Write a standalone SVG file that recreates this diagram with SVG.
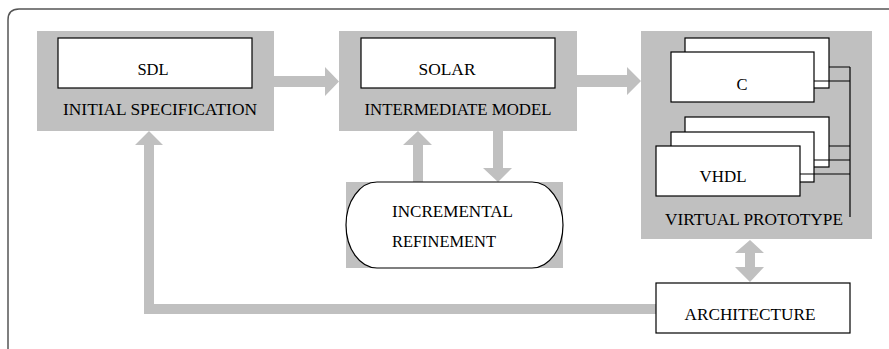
<svg xmlns="http://www.w3.org/2000/svg" width="889" height="349" viewBox="0 0 889 349">
<style>
.gray{fill:#c0c0c0;stroke:none}
.box{fill:#fff;stroke:#000;stroke-width:1.2}
.t{font-family:"Liberation Serif","DejaVu Serif",serif;font-size:16.5px;fill:#000}
.m{text-anchor:middle}
.wire{fill:none;stroke:#000;stroke-width:1.2}
.arrow{fill:#c0c0c0;stroke:none}
</style>
<rect width="889" height="349" fill="#fff"/>
<path d="M8 349 V20 Q8 9 19 9 H889" fill="none" stroke="#555" stroke-width="1.5"/>

<g id="connectors">
  <polygon class="arrow" points="274,76 325,76 325,67 339,81.5 325,96 325,87 274,87"/>
  <polygon class="arrow" points="577,75 627,75 627,67 641,81 627,95 627,87 577,87"/>
  <polygon class="arrow" points="413,182 413,145 403,145 418,131 432,145 423,145 423,182"/>
  <polygon class="arrow" points="493,131 503,131 503,168 512,168 498,182 483,168 493,168"/>
  <polygon class="arrow" points="656,304 656,314 144,314 144,145 135,145 149,131 163,145 154,145 154,304"/>
  <polygon class="arrow" points="750,240 764,253 755,253 755,267 764,267 750,282 735,267 745,267 745,253 735,253"/>
</g>

<g id="initial-specification">
  <rect class="gray" x="37" y="31" width="237" height="100"/>
  <rect class="box" x="58" y="38" width="194" height="50"/>
  <text class="t m" x="153" y="75" font-family="Liberation Serif, serif">SDL</text>
  <text class="t m" x="160" y="115" textLength="194" lengthAdjust="spacingAndGlyphs">INITIAL SPECIFICATION</text>
</g>

<g id="intermediate-model">
  <rect class="gray" x="339" y="31" width="238" height="100"/>
  <rect class="box" x="361" y="38" width="194" height="50"/>
  <text class="t m" x="447" y="75" textLength="57" lengthAdjust="spacingAndGlyphs">SOLAR</text>
  <text class="t m" x="458" y="115" textLength="187" lengthAdjust="spacingAndGlyphs">INTERMEDIATE MODEL</text>
</g>

<g id="incremental-refinement">
  <rect class="gray" x="346" y="182" width="217" height="86"/>
  <rect class="box" x="346" y="182" width="217" height="86" rx="31" ry="43"/>
  <text class="t" x="392" y="217" textLength="121" lengthAdjust="spacingAndGlyphs">INCREMENTAL</text>
  <text class="t" x="392" y="247" textLength="104" lengthAdjust="spacingAndGlyphs">REFINEMENT</text>
</g>

<g id="virtual-prototype">
  <rect class="gray" x="641" y="31" width="231" height="208"/>
  <rect class="box" x="685" y="38" width="144" height="50"/>
  <rect class="box" x="671" y="52" width="143" height="50"/>
  <text class="t m" x="742" y="90">C</text>
  <rect class="box" x="685" y="117" width="144" height="50"/>
  <rect class="box" x="671" y="132" width="143" height="50"/>
  <rect class="box" x="656" y="146" width="144" height="50"/>
  <text class="t m" x="723" y="182" textLength="47" lengthAdjust="spacingAndGlyphs">VHDL</text>
  <path class="wire" d="M829 67 H850 M814 81 H850 M829 146 H850 M814 160 H850 M800 174 H850 M850 67 V217"/>
  <text class="t m" x="754" y="225" textLength="178" lengthAdjust="spacingAndGlyphs">VIRTUAL PROTOTYPE</text>
</g>

<g id="architecture">
  <rect class="box" x="656" y="283" width="194" height="50"/>
  <text class="t m" x="750" y="320" textLength="131" lengthAdjust="spacingAndGlyphs">ARCHITECTURE</text>
</g>
</svg>
